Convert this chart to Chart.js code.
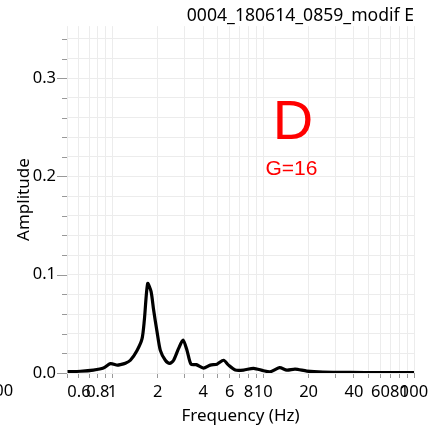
<!DOCTYPE html>
<html><head><meta charset="utf-8">
<script src="https://cdn.jsdelivr.net/npm/chart.js@4/dist/chart.umd.min.js"></script>
<style>html,body{margin:0;padding:0;background:#fff}canvas{display:block}</style>
</head><body>
<canvas id="c" width="443" height="434"></canvas>
<script>
const chartTitle = '0004_180614_0859_modif E';
const freqs = [0.504, 0.614, 0.748, 0.872, 0.97, 1.079, 1.13, 1.219, 1.316, 1.457, 1.573, 1.629, 1.713, 1.804, 1.877, 1.977, 2.079, 2.244, 2.396, 2.547, 2.748, 2.94, 3.125, 3.32, 3.6, 4.02, 4.46, 4.94, 5.46, 5.89, 6.53, 7.41, 8.63, 10.05, 11.13, 12.83, 14.35, 16.29, 19.47, 24.9, 37.7, 59.6, 100];
const amps = [0.0013, 0.0018, 0.003, 0.005, 0.0095, 0.008, 0.0085, 0.010, 0.013, 0.023, 0.035, 0.054, 0.091, 0.083, 0.064, 0.042, 0.023, 0.013, 0.0098, 0.013, 0.025, 0.0335, 0.023, 0.009, 0.0085, 0.005, 0.008, 0.009, 0.013, 0.008, 0.003, 0.003, 0.0048, 0.0023, 0.0012, 0.0054, 0.003, 0.004, 0.002, 0.001, 0.0006, 0.0005, 0.0005];
const xTickValues = [0.5,0.6,0.7,0.8,0.9,1,2,3,4,5,6,7,8,9,10,20,30,40,50,60,70,80,90,100];
const xLabelValues = [0.6,0.8,1,2,4,6,8,10,20,40,60,80,100];
const yTickValues = [0,0.02,0.04,0.06,0.08,0.1,0.12,0.14,0.16,0.18,0.2,0.22,0.24,0.26,0.28,0.3,0.32,0.34];
const yLabelValues = [0,0.1,0.2,0.3];
const annotationMain = 'D';
const annotationSub = 'G=16';
const strayLabel = '100';

const near = (a,b)=>Math.abs(a-b) < 1e-9*Math.max(1,Math.abs(b));

const extras = {
  id:'extras',
  afterDraw(chart){
    const ctx = chart.ctx;
    const y = chart.scales.y;
    const area = chart.chartArea;
    ctx.save();
    ctx.strokeStyle = '#999';
    ctx.lineWidth = 1;
    yTickValues.forEach(v=>{
      const py = Math.round(y.getPixelForValue(v)) + 0.5;
      const major = yLabelValues.some(m=>near(m,v));
      ctx.beginPath();
      ctx.moveTo(area.left - (major ? 10 : 5), py);
      ctx.lineTo(area.left, py);
      ctx.stroke();
    });
    ctx.fillStyle = '#ff0000';
    ctx.textAlign = 'center';
    ctx.textBaseline = 'alphabetic';
    ctx.font = '56px "Liberation Sans"';
    ctx.fillText(annotationMain, 293, 139);
    ctx.font = '21px "Liberation Sans"';
    ctx.fillText(annotationSub, 291.5, 175);
    ctx.fillStyle = '#000';
    ctx.font = '16.5px "Noto Sans"';
    ctx.textBaseline = 'middle';
    ctx.fillText(strayLabel, -1, 391);
    ctx.restore();
  }
};

new Chart(document.getElementById('c'), {
  type:'line',
  data:{datasets:[{
    data: freqs.map((f,i)=>({x:f, y:amps[i]})),
    borderColor:'#000', borderWidth:3.2, pointRadius:0, tension:0.25, fill:false
  }]},
  options:{
    responsive:false, animation:false, devicePixelRatio:1,
    layout:{padding:{left:0,right:29,top:0,bottom:0}},
    plugins:{
      legend:{display:false}, tooltip:{enabled:false},
      title:{display:true, text:chartTitle, align:'end', color:'#000',
        font:{family:'Noto Sans', size:17.6, weight:'normal'}, padding:{top:5,bottom:0}}
    },
    scales:{
      x:{type:'logarithmic', min:0.5, max:100,
        afterBuildTicks: s=>{ s.ticks = xTickValues.map(v=>({value:v})); },
        afterFit: s=>{ s.height = 61; },
        grid:{color:'#ececec', drawTicks:true, tickLength:5, tickColor:'#999'},
        border:{display:false},
        ticks:{autoSkip:false, maxRotation:0, minRotation:0, padding:4, color:'#000',
          font:{family:'Noto Sans', size:16.5},
          callback:(v)=>{ const m = xLabelValues.find(l=>near(l,v)); return m===undefined ? '' : String(m); }},
        title:{display:true, text:'Frequency (Hz)', color:'#000', font:{family:'Noto Sans', size:17}, padding:{top:0,bottom:8}}
      },
      y:{min:0, max:0.353,
        afterBuildTicks: s=>{ s.ticks = yTickValues.map(v=>({value:v})); },
        afterFit: s=>{ s.width = 67; },
        grid:{color:'#ececec', drawTicks:false},
        border:{display:false},
        ticks:{autoSkip:false, padding:11, color:'#000', font:{family:'Noto Sans', size:16.5},
          callback:(v)=>{ const m = yLabelValues.find(l=>near(l,v)); return m===undefined ? '' : m.toFixed(1); }},
        title:{display:true, text:'Amplitude', color:'#000', font:{family:'Noto Sans', size:17}, padding:{top:14,bottom:0}}
      }
    }
  },
  plugins:[extras]
});
</script>
</body></html>
